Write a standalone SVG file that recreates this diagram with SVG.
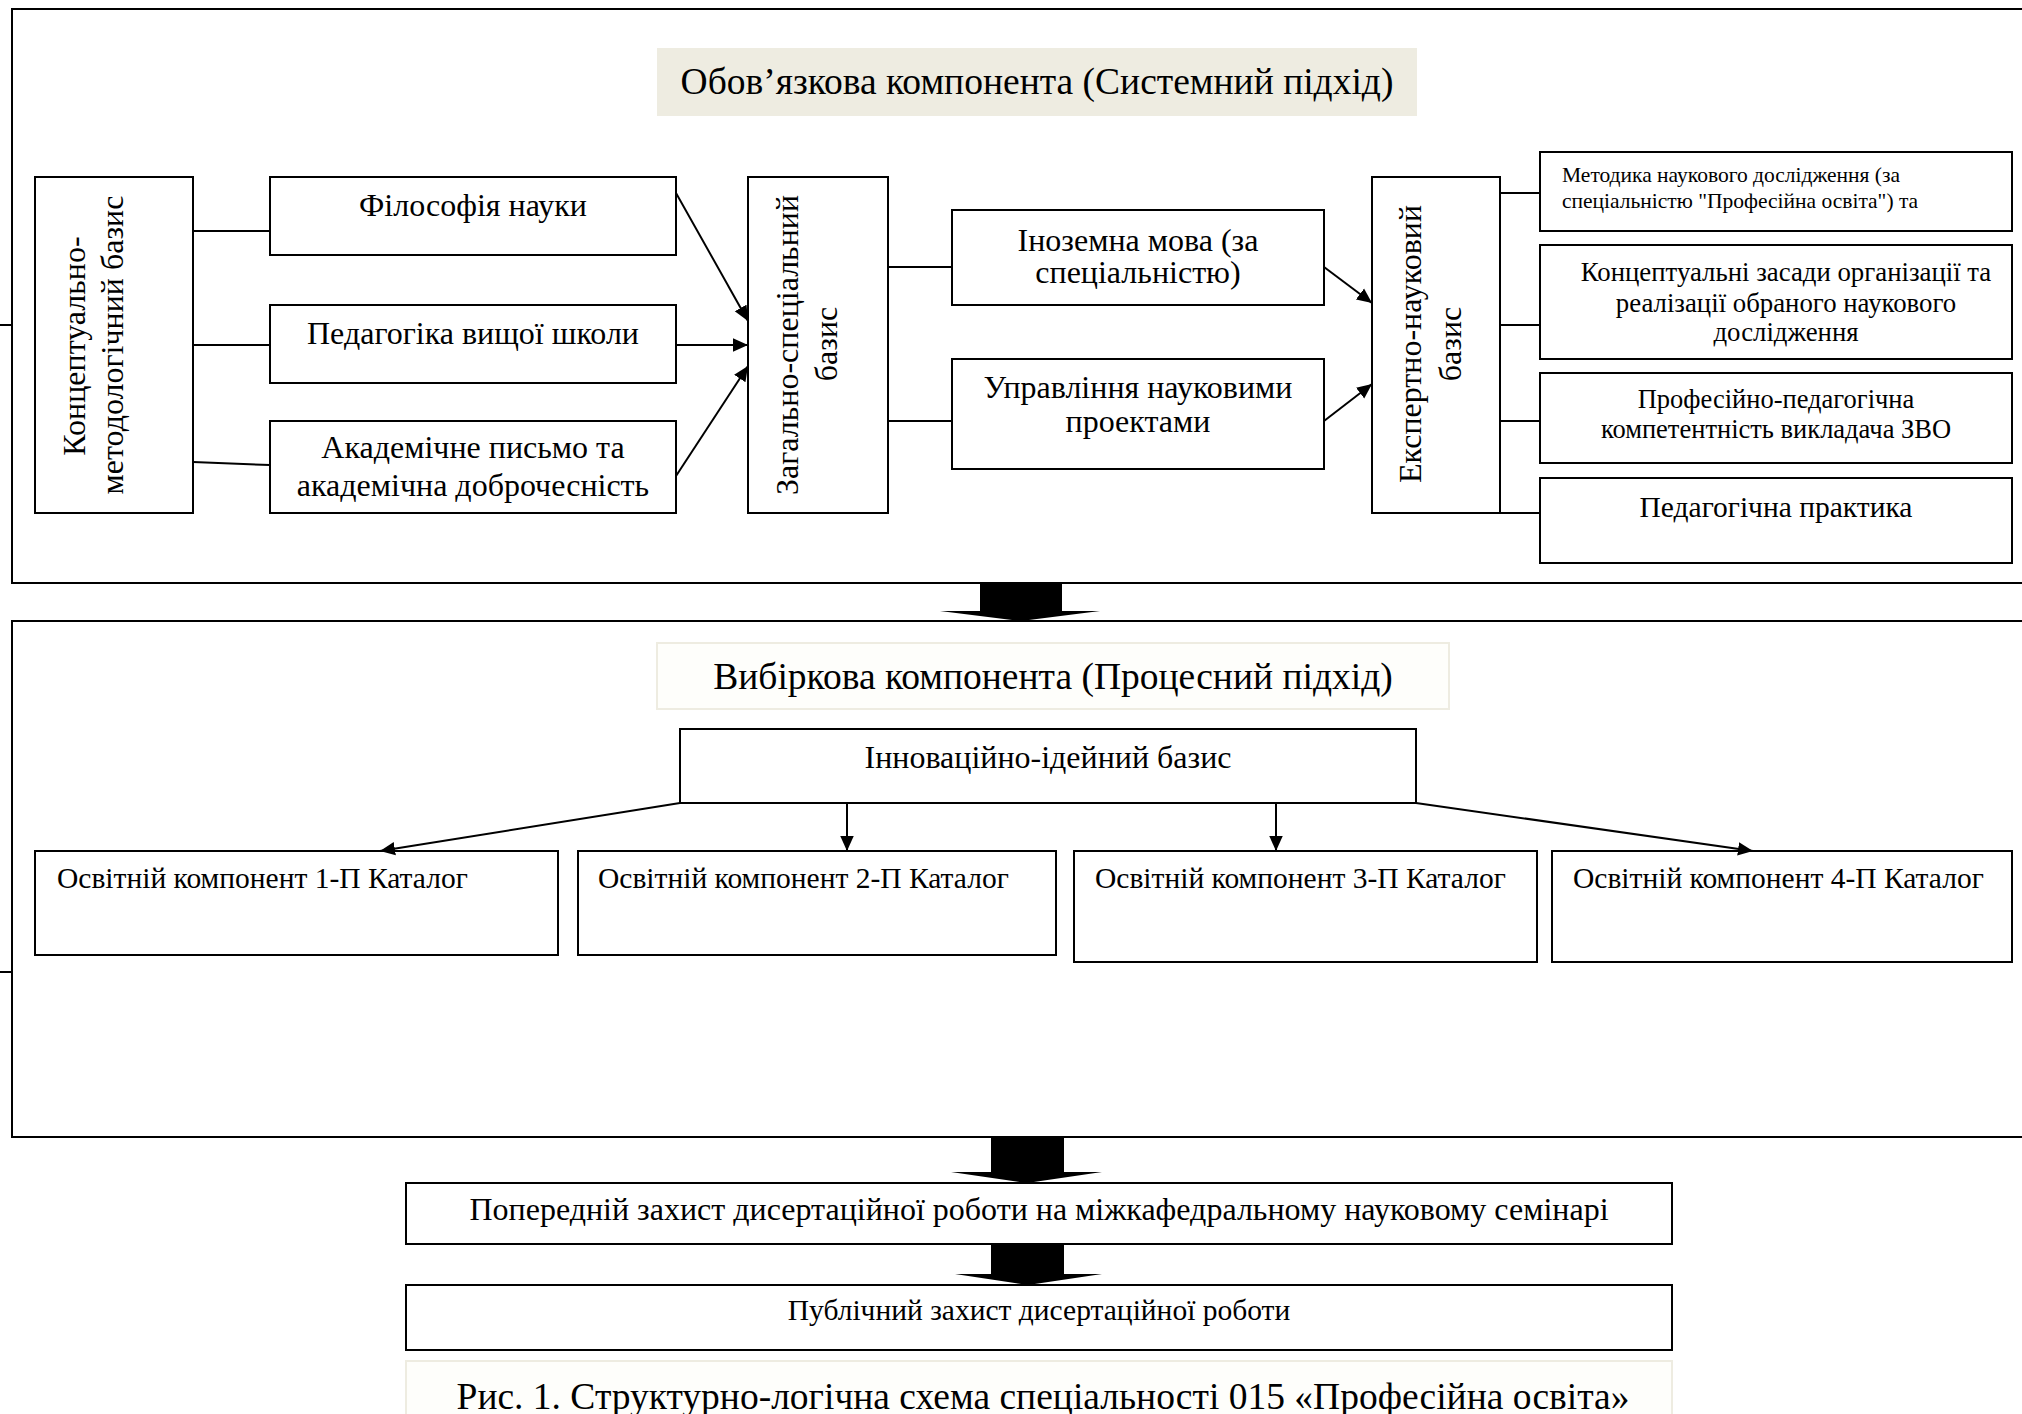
<svg xmlns="http://www.w3.org/2000/svg" width="2022" height="1414" viewBox="0 0 2022 1414">
<defs>
<marker id="ah" viewBox="0 0 10 10" refX="10" refY="5" markerWidth="15" markerHeight="15" markerUnits="userSpaceOnUse" orient="auto">
<path d="M0,0.5 L10,5 L0,9.5 z" fill="#000"/>
</marker>
</defs>
<style>
text{font-family:"Liberation Serif","Times New Roman",serif;fill:#000}
.box{fill:#fff;stroke:#000;stroke-width:2}
.frame{fill:none;stroke:#000;stroke-width:2}
.ln{stroke:#000;stroke-width:2;fill:none}
.arr{stroke:#000;stroke-width:2;fill:none;marker-end:url(#ah)}
.t32{font-size:32px;text-anchor:middle}
.t37{font-size:37.5px;text-anchor:middle}
.osv{font-size:29.5px}
.small{font-size:21.5px}
.c27{font-size:26.8px;text-anchor:middle}
.c26{font-size:26.5px;text-anchor:middle}
.c29{font-size:29.5px;text-anchor:middle}
</style>
<rect width="2022" height="1414" fill="#fff"/>

<g id="frame-top"><rect class="frame" x="12" y="9" width="2030" height="574"/></g>
<g id="frame-mid"><rect class="frame" x="12" y="621" width="2030" height="516"/></g>

<g id="title-top"><rect x="657" y="48" width="760" height="68" fill="#EEECE1"/>
<text class="t37" x="1037" y="94">Обов’язкова компонента (Системний підхід)</text></g>

<g id="n-konc"><rect class="box" x="35" y="177" width="158" height="336"/>
<text class="t32" transform="translate(85,346) rotate(-90)">Концептуально-</text>
<text class="t32" transform="translate(123,345) rotate(-90)">методологічний базис</text></g>

<g id="n-fil"><rect class="box" x="270" y="177" width="406" height="78"/>
<text class="t32" x="473" y="216">Філософія науки</text></g>
<g id="n-ped"><rect class="box" x="270" y="305" width="406" height="78"/>
<text class="t32" x="473" y="344">Педагогіка вищої школи</text></g>
<g id="n-akad"><rect class="box" x="270" y="421" width="406" height="92"/>
<text class="t32" x="473" y="458">Академічне письмо та</text>
<text class="t32" x="473" y="496">академічна доброчесність</text></g>

<g id="n-zag"><rect class="box" x="748" y="177" width="140" height="336"/>
<text class="t32" transform="translate(798,345) rotate(-90)">Загально-спеціальний</text>
<text class="t32" transform="translate(837,344) rotate(-90)">базис</text></g>

<g id="n-inoz"><rect class="box" x="952" y="210" width="372" height="95"/>
<text class="t32" x="1138" y="251">Іноземна мова (за</text>
<text class="t32" x="1138" y="283">спеціальністю)</text></g>
<g id="n-upr"><rect class="box" x="952" y="359" width="372" height="110"/>
<text class="t32" x="1138" y="398">Управління науковими</text>
<text class="t32" x="1138" y="432">проектами</text></g>

<g id="n-eksp"><rect class="box" x="1372" y="177" width="128" height="336"/>
<text class="t32" transform="translate(1421,344) rotate(-90)">Експертно-науковий</text>
<text class="t32" transform="translate(1461,344) rotate(-90)">базис</text></g>

<g id="n-metod"><rect class="box" x="1540" y="152" width="472" height="79"/>
<text class="small" x="1562" y="182">Методика наукового дослідження (за</text>
<text class="small" x="1562" y="208">спеціальністю "Професійна освіта") та</text></g>
<g id="n-zasad"><rect class="box" x="1540" y="245" width="472" height="114"/>
<text class="c27" x="1786" y="281">Концептуальні засади організації та</text>
<text class="c27" x="1786" y="312">реалізації обраного наукового</text>
<text class="c27" x="1786" y="341">дослідження</text></g>
<g id="n-prof"><rect class="box" x="1540" y="373" width="472" height="90"/>
<text class="c26" x="1776" y="408">Професійно-педагогічна</text>
<text class="c26" x="1776" y="438">компетентність викладача ЗВО</text></g>
<g id="n-prakt"><rect class="box" x="1540" y="478" width="472" height="85"/>
<text class="c29" x="1776" y="517">Педагогічна практика</text></g>

<g id="title-mid"><rect x="657" y="643" width="792" height="66" fill="#FEFEFB" stroke="#EEECE1" stroke-width="2"/>
<text class="t37" x="1053" y="689">Вибіркова компонента (Процесний підхід)</text></g>

<g id="n-innov"><rect class="box" x="680" y="729" width="736" height="74"/>
<text class="t32" x="1048" y="768">Інноваційно-ідейний базис</text></g>

<g id="n-osv1"><rect class="box" x="35" y="851" width="523" height="104"/>
<text class="osv" x="57" y="888">Освітній компонент 1-П Каталог</text></g>
<g id="n-osv2"><rect class="box" x="578" y="851" width="478" height="104"/>
<text class="osv" x="598" y="888">Освітній компонент 2-П Каталог</text></g>
<g id="n-osv3"><rect class="box" x="1074" y="851" width="463" height="111"/>
<text class="osv" x="1095" y="888">Освітній компонент 3-П Каталог</text></g>
<g id="n-osv4"><rect class="box" x="1552" y="851" width="460" height="111"/>
<text class="osv" x="1573" y="888">Освітній компонент 4-П Каталог</text></g>

<g id="n-poper"><rect class="box" x="406" y="1183" width="1266" height="61"/>
<text class="t32" x="1039" y="1220">Попередній захист дисертаційної роботи на міжкафедральному науковому семінарі</text></g>
<g id="n-publ"><rect class="box" x="406" y="1285" width="1266" height="65"/>
<text class="c29" x="1039" y="1320">Публічний захист дисертаційної роботи</text></g>

<g id="caption"><rect x="406" y="1361" width="1266" height="60" fill="#FEFEFB" stroke="#EEECE1" stroke-width="2"/>
<text class="t37" x="1043" y="1409">Рис. 1. Структурно-логічна схема спеціальності 015 «Професійна освіта»</text></g>

<g id="connectors">
<line class="ln" x1="0" y1="325" x2="12" y2="325"/>
<line class="ln" x1="0" y1="972" x2="12" y2="972"/>
<line class="ln" x1="193" y1="231" x2="270" y2="231"/>
<line class="ln" x1="193" y1="345" x2="270" y2="345"/>
<line class="ln" x1="193" y1="462" x2="270" y2="465"/>
<line class="arr" x1="676" y1="193" x2="748" y2="321"/>
<line class="arr" x1="676" y1="345" x2="748" y2="345"/>
<line class="arr" x1="676" y1="476" x2="748" y2="366"/>
<line class="ln" x1="888" y1="267" x2="952" y2="267"/>
<line class="ln" x1="888" y1="421" x2="952" y2="421"/>
<line class="arr" x1="1324" y1="267" x2="1372" y2="303"/>
<line class="arr" x1="1324" y1="421" x2="1372" y2="384"/>
<line class="ln" x1="1500" y1="193" x2="1540" y2="193"/>
<line class="ln" x1="1500" y1="325" x2="1540" y2="325"/>
<line class="ln" x1="1500" y1="421" x2="1540" y2="421"/>
<line class="ln" x1="1500" y1="513" x2="1540" y2="513"/>
<line class="arr" x1="680" y1="803" x2="380" y2="851"/>
<line class="arr" x1="847" y1="803" x2="847" y2="851"/>
<line class="arr" x1="1276" y1="803" x2="1276" y2="851"/>
<line class="arr" x1="1416" y1="803" x2="1753" y2="851"/>
<polygon points="980,583 1062,583 1062,611 1100,611 1021,621 940,611 980,611" fill="#000"/>
<polygon points="991,1137 1064,1137 1064,1172 1102,1172 1027,1183 951,1172 991,1172" fill="#000"/>
<polygon points="991,1244 1064,1244 1064,1274 1102,1274 1028,1285 955,1274 991,1274" fill="#000"/>
</g>
</svg>
